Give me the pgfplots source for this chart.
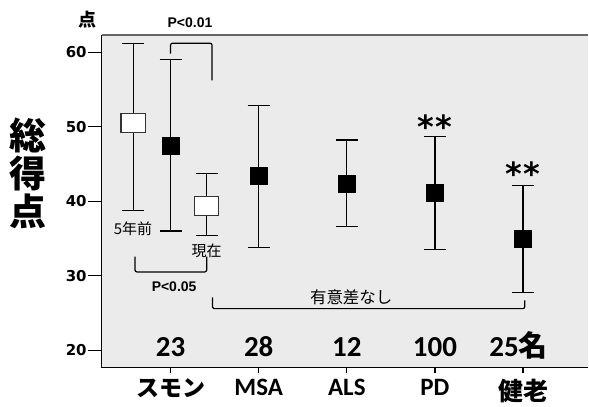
\documentclass[border=0pt]{standalone}
\usepackage{pgfplots}
\pgfplotsset{compat=1.18}
\usepackage{fontspec}
\setmainfont{Liberation Sans}
\newfontfamily\jp{Noto Sans CJK JP}
\newfontfamily\carl{Carlito}
\newfontfamily\dv{DejaVu Sans}
\begin{document}
\begin{tikzpicture}
\begin{axis}[
    scale only axis,
    width=487pt, height=333pt,
    xmin=0.22, xmax=5.74, ymin=17.7, ymax=62.3,
    axis x line*=bottom, axis y line*=left,
    axis line style={line width=1.3pt, -},
    axis background/.style={fill=black!8},
    ytick={20,30,40,50,60},
    xtick={1,2,3,4,5},
    xticklabels={{\jp\bfseries\fontsize{23}{26}\selectfont スモン}, {\carl\bfseries MSA}, {\carl\bfseries ALS}, {\carl\bfseries PD}, {\jp\bfseries 健老}},
    xticklabel style={font=\fontsize{25}{28}\selectfont, yshift=6pt},
    yticklabel style={font=\dv\bfseries\fontsize{15}{18}\selectfont, inner sep=1pt},
    /pgf/number format/assume math mode=true,
    tick align=outside,
    major tick length=14pt,
    xtick style={draw=none},
    ytick style={line width=1.2pt, black},
    clip=false,
]
% open boxes: 5 years ago / now
\addplot[only marks, mark=square*, mark size=9pt,
    mark options={fill=white, draw=black!80, line width=1.3pt, xscale=1.35, yscale=1.05},
    error bars/.cd, y dir=both, y explicit,
    error bar style={line width=1.2pt, black},
    error mark options={rotate=90, mark size=11pt, line width=1.2pt, black}]
  coordinates {
    (0.575, 50.5) += (0, 10.7) -= (0, 11.7)
    (1.41, 39.4) += (0, 4.3) -= (0, 4.0)
  };
% black squares
\addplot[only marks, mark=square*, mark size=8.5pt,
    mark options={fill=black, draw=black},
    error bars/.cd, y dir=both, y explicit,
    error bar style={line width=1.2pt, black},
    error mark options={rotate=90, mark size=11pt, line width=1.2pt, black}]
  coordinates {
    (1, 47.5) += (0, 11.5) -= (0, 11.5)
    (2, 43.4) += (0, 9.4) -= (0, 9.55)
    (3, 42.4) += (0, 5.8) -= (0, 5.8)
    (4, 41.2) += (0, 7.5) -= (0, 7.7)
    (5, 35.0) += (0, 7.1) -= (0, 7.2)
  };
% top frame line and small x ticks
\draw[black!60, line width=1.5pt] (rel axis cs:0,1) -- (rel axis cs:1,1);
\draw[line width=1.2pt] (axis cs:1,17.7) -- ++(0pt,-5pt);
\draw[line width=1.2pt] (axis cs:2,17.7) -- ++(0pt,-5pt);
\draw[line width=1.2pt] (axis cs:3,17.7) -- ++(0pt,-5pt);
\draw[line width=1.2pt] (axis cs:4,17.7) -- ++(0pt,-5pt);
\draw[line width=1.2pt] (axis cs:5,17.7) -- ++(0pt,-5pt);
% brackets
\draw[line width=1.2pt, rounded corners=2pt] (axis cs:1.0,59.8) -- (axis cs:1.0,61.2) -- (axis cs:1.47,61.2) -- (axis cs:1.47,56.2);
\draw[line width=1.2pt, rounded corners=2pt] (axis cs:0.596,32.57) -- (axis cs:0.596,30.52) -- (axis cs:1.41,30.52) -- (axis cs:1.41,32.57);
\draw[line width=1.2pt, rounded corners=2pt] (axis cs:1.476,27.1) -- (axis cs:1.476,25.6) -- (axis cs:5.02,25.6) -- (axis cs:5.02,26.7);
% texts
\node[font=\bfseries\fontsize{14}{16}\selectfont] at (axis cs:1.22,64.0) {P<0.01};
\node[font=\bfseries\fontsize{14}{16}\selectfont] at (axis cs:1.04,28.56) {P<0.05};
\node[font=\jp\fontsize{16.5}{18}\selectfont] at (axis cs:3.05,27.15) {有意差なし};
\node[font=\jp\fontsize{15}{17}\selectfont] at (axis cs:0.574,36.3) {5年前};
\node[font=\jp\fontsize{15}{17}\selectfont] at (axis cs:1.41,33.4) {現在};
\node[font=\dv\bfseries\fontsize{32}{34}\selectfont] at (axis cs:4.0,50.0) {*\hspace{1pt}*};
\node[font=\dv\bfseries\fontsize{32}{34}\selectfont] at (axis cs:5.0,43.7) {*\hspace{1pt}*};
\node[font=\jp\bfseries\fontsize{18}{20}\selectfont] at (axis cs:0.052,64.4) {点};
\node[font=\jp\bfseries\fontsize{37}{38}\selectfont, align=center] at (axis cs:-0.616,43.7) {総\\得\\点};
\node[font=\carl\bfseries\fontsize{29}{32}\selectfont, anchor=base] at (axis cs:1,19.2) {23};
\node[font=\carl\bfseries\fontsize{29}{32}\selectfont, anchor=base] at (axis cs:2,19.2) {28};
\node[font=\carl\bfseries\fontsize{29}{32}\selectfont, anchor=base] at (axis cs:3,19.2) {12};
\node[font=\carl\bfseries\fontsize{29}{32}\selectfont, anchor=base] at (axis cs:4,19.2) {100};
\node[font=\bfseries\fontsize{29}{32}\selectfont, anchor=base] at (axis cs:4.95,19.2) {{\carl 25}{\jp 名}};
% keep the page the size of the reference
\path (rel axis cs:-0.2094,-0.1081) rectangle (rel axis cs:1,1.1051);
\end{axis}
\end{tikzpicture}
\end{document}
